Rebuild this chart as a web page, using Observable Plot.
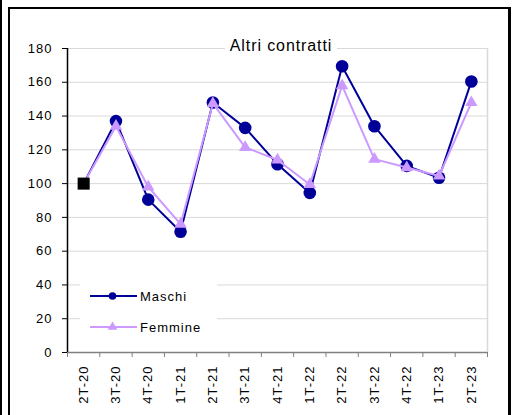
<!DOCTYPE html>
<html>
<head>
<meta charset="utf-8">
<script src="https://cdn.jsdelivr.net/npm/d3@7"></script>
<script src="https://cdn.jsdelivr.net/npm/@observablehq/plot@0.6"></script>
<style>
  html, body { margin: 0; padding: 0; background: #fff; }
  #wrap { position: relative; width: 515px; height: 415px; overflow: hidden; font-family: "Liberation Sans", Arial, sans-serif; }
  #wrap svg text { letter-spacing: 1px; }
  .bar { position: absolute; background: #000; }
  #title { position: absolute; left: 225px; top: 35px; width: 112px; height: 22px; background: #fff; text-align: center; font-size: 16px; line-height: 22px; letter-spacing: 0.9px; color: #000; }
  #legend { position: absolute; left: 80px; top: 281px; width: 137px; height: 58px; background: #fff; }
</style>
</head>
<body>
<div id="wrap">
  <div id="chart"></div>
  <div class="bar" style="left:0;top:0;width:2px;height:415px"></div>
  <div class="bar" style="left:8px;top:7px;width:2px;height:408px"></div>
  <div class="bar" style="left:8px;top:7px;width:503px;height:2px"></div>
  <div class="bar" style="left:508px;top:7px;width:3px;height:408px"></div>
  <div id="title">Altri contratti</div>
  <div id="legend"></div>
</div>
<script>
const labels = ["2T-20","3T-20","4T-20","1T-21","2T-21","3T-21","4T-21","1T-22","2T-22","3T-22","4T-22","1T-23","2T-23"];
const maschi = [100,137,90.5,71.5,148,133,111.5,94.5,169.5,134,110.5,103.5,160.5];
const femmine = [100,134,98,76,147.5,121.5,114,99.5,158,114.5,109.5,104.5,148];
const yTicks = [0,20,40,60,80,100,120,140,160,180];
const seriesNames = ["Maschi","Femmine"];
const colors = ["#000099","#cc99ff"];

const idx = d3.range(labels.length);
const bounds = d3.range(labels.length + 1).map(i => i - 0.5);
const mData = idx.map(i => ({i, v: maschi[i]}));
const fData = idx.map(i => ({i, v: femmine[i]}));
const base = [{i: 0, v: maschi[0]}];

const plot = Plot.plot({
  width: 515,
  height: 415,
  marginLeft: 67,
  marginRight: 28,
  marginTop: 48,
  marginBottom: 63,
  style: {fontFamily: "'Liberation Sans', Arial, sans-serif", fontSize: "13px", color: "#000", background: "transparent"},
  x: {type: "linear", domain: [-0.5, labels.length - 0.5], axis: null},
  y: {domain: [0, 180], axis: null},
  marks: [
    Plot.gridY({ticks: yTicks, stroke: "#d9d9d9", strokeOpacity: 1}),
    Plot.ruleX([labels.length - 0.5], {stroke: "#d9d9d9", strokeWidth: 1.5}),
    Plot.ruleY([0], {stroke: "#808080", strokeWidth: 1.5}),
    Plot.ruleX([-0.5], {stroke: "#000", strokeWidth: 1.5}),
    Plot.axisY({ticks: yTicks, tickSize: 5, tickPadding: 10, stroke: "#000", label: null, fontSize: 13}),
    Plot.axisX({ticks: bounds, tickSize: 5, stroke: "#808080", tickFormat: () => "", label: null}),
    Plot.axisX({ticks: idx, tickSize: 0, tickPadding: 13, tickRotate: -90, tickFormat: i => labels[i], label: null, fontSize: 13}),
    Plot.line(mData, {x: "i", y: "v", stroke: colors[0], strokeWidth: 2}),
    Plot.dot(mData.slice(1), {x: "i", y: "v", r: 6.3, fill: colors[0], stroke: null}),
    Plot.line(fData, {x: "i", y: "v", stroke: colors[1], strokeWidth: 2}),
    Plot.dot(fData.slice(1), {x: "i", y: "v", symbol: "triangle", r: 4.6, fill: colors[1], stroke: null}),
    Plot.dot(base, {x: "i", y: "v", symbol: "square", r: 6.8, fill: "#000", stroke: null})
  ]
});
plot.style.position = "absolute";
plot.style.left = "0px";
plot.style.top = "0px";
document.getElementById("chart").appendChild(plot);

// legend
const leg = d3.select("#legend").append("svg").attr("width", 137).attr("height", 58)
  .style("font-family", "'Liberation Sans', Arial, sans-serif").style("font-size", "13px");
const symTri = d3.symbol(d3.symbolTriangle, 40)();
seriesNames.forEach((name, k) => {
  const y = 15 + k * 31;
  const g = leg.append("g");
  g.append("line").attr("x1", 10).attr("x2", 57).attr("y1", y).attr("y2", y).attr("stroke", colors[k]).attr("stroke-width", 2);
  if (k === 0) g.append("circle").attr("cx", 32.5).attr("cy", y).attr("r", 3.8).attr("fill", colors[k]);
  else g.append("path").attr("d", symTri).attr("transform", `translate(32.5,${y})`).attr("fill", colors[k]);
  g.append("text").attr("x", 60).attr("y", y).attr("dy", "0.35em").attr("letter-spacing", "1.1px").text(name);
});
</script>
</body>
</html>
